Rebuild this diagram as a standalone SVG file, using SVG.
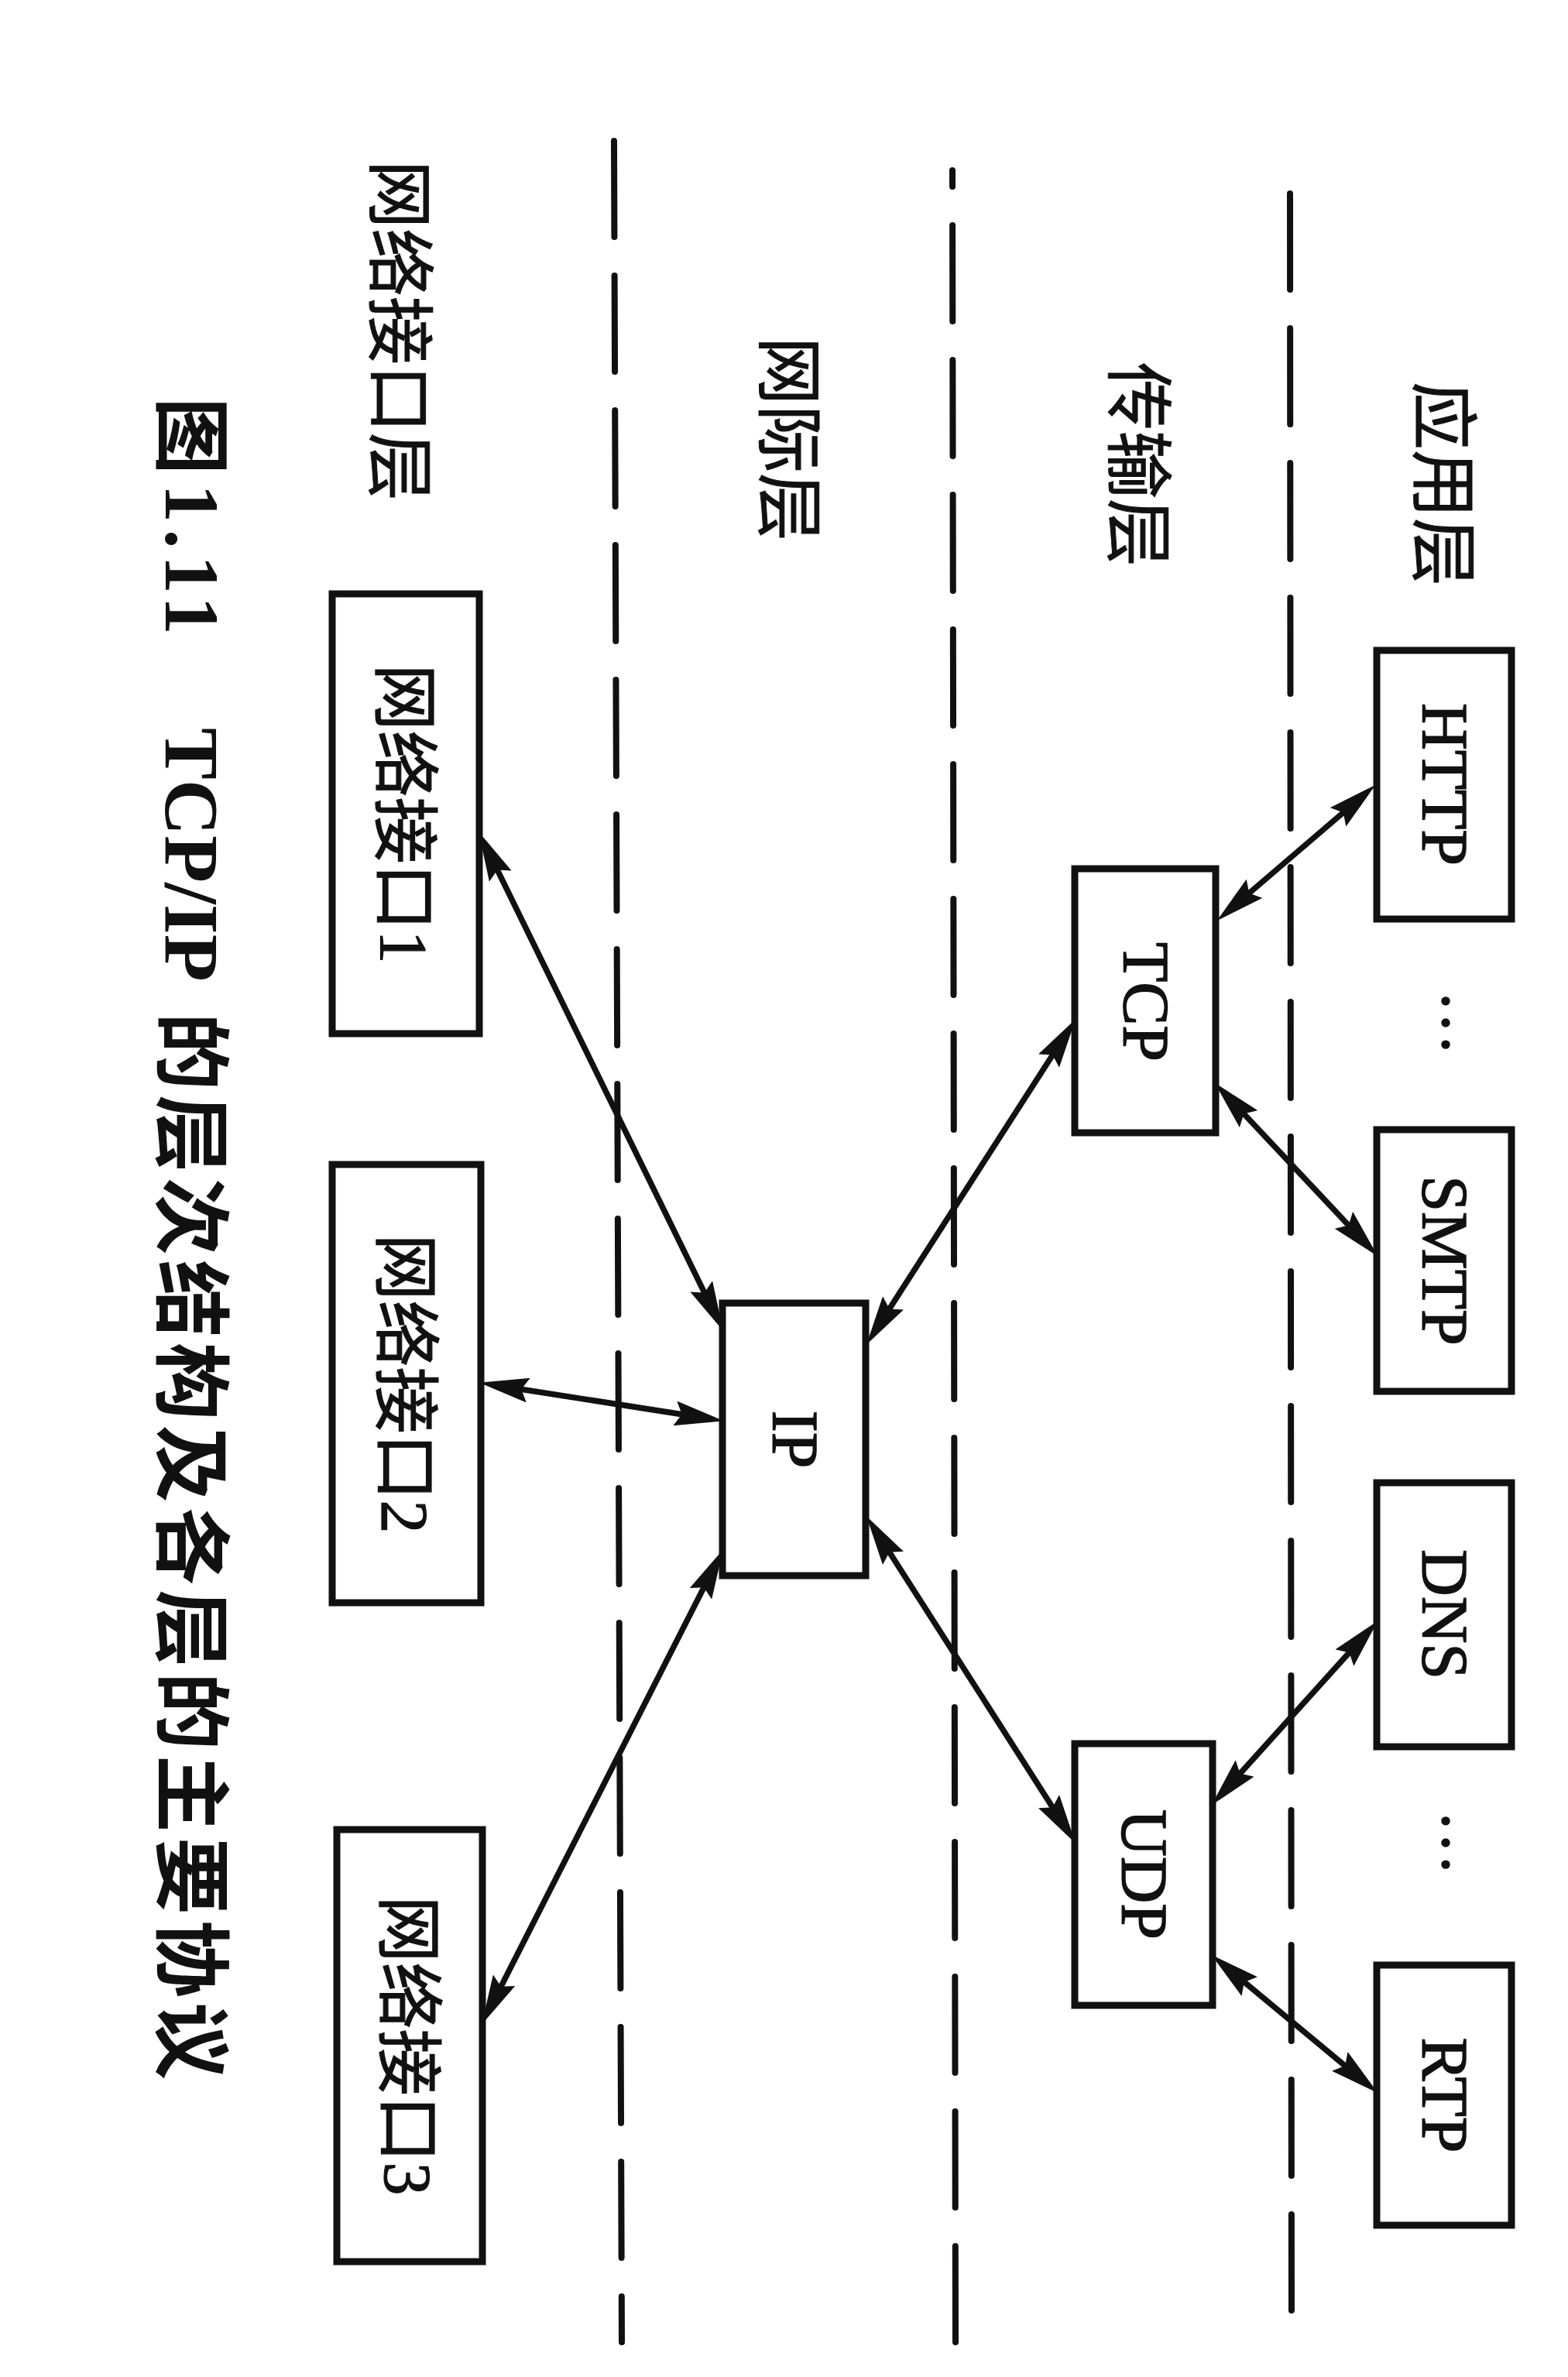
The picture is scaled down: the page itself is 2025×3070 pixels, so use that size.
<svg xmlns="http://www.w3.org/2000/svg" width="2025" height="3070" viewBox="0 0 2025 3070">
<style>
.box{fill:#fff;stroke:#111;stroke-width:9}
.lbl{font-family:"Liberation Serif","Noto Sans CJK SC",serif;font-size:84px;fill:#111;stroke:#111;stroke-width:1.5;text-anchor:middle}
.cjk{font-family:"Liberation Serif","Noto Sans CJK SC",serif;font-size:86px;fill:#111;stroke:#111;stroke-width:1.2;text-anchor:middle}
.layer{font-family:"Noto Sans CJK SC",sans-serif;font-size:88px;fill:#111;stroke:#111;stroke-width:1;text-anchor:middle}
.cap{font-family:"Liberation Serif","Noto Sans CJK SC",serif;font-size:100px;font-weight:bold;fill:#111}
.capc{font-family:"Noto Sans CJK SC",sans-serif;font-size:100px;font-weight:bold;fill:#111}
.dash{stroke:#111;stroke-width:8;stroke-dasharray:124 50;stroke-linecap:round;fill:none}
.arr{stroke:#111;stroke-width:7.5;fill:none;marker-start:url(#ah);marker-end:url(#ah)}
</style>
<defs>
<marker id="ah" markerUnits="userSpaceOnUse" markerWidth="64" markerHeight="32" refX="32" refY="16" orient="auto-start-reverse" viewBox="0 0 64 32">
<path d="M0,0 L64,16 L0,32 L9,16 z" fill="#111"/>
</marker>
</defs>
<rect width="2025" height="3070" fill="#fff"/>

<g id="layer-lines">
<line class="dash" x1="793" y1="182" x2="803" y2="3025"/>
<line class="dash" x1="1230" y1="220" x2="1234" y2="3025" stroke-dashoffset="103"/>
<line class="dash" x1="1666" y1="250" x2="1668" y2="3025"/>
</g>

<g id="layer-labels">
<text class="layer" transform="translate(1866,625) rotate(90)" y="33">应用层</text>
<text class="layer" transform="translate(1472,600) rotate(90)" y="33">传输层</text>
<text class="layer" transform="translate(1021,567) rotate(90)" y="33">网际层</text>
<text class="layer" transform="translate(518,427) rotate(90)" y="33">网络接口层</text>
</g>

<g id="connectors">
<line class="arr" x1="1752.2" y1="1034.5" x2="1595.8" y2="1168.5"/>
<line class="arr" x1="1590.6" y1="1421.8" x2="1757.4" y2="1599.2"/>
<line class="arr" x1="1371.8" y1="1343.2" x2="1136.2" y2="1709.8"/>
<line class="arr" x1="1136.2" y1="1985.3" x2="1371.8" y2="2353.7"/>
<line class="arr" x1="1757.9" y1="2117.3" x2="1586.1" y2="2307.7"/>
<line class="arr" x1="1589.1" y1="2545.2" x2="1754.9" y2="2682.8"/>
<line class="arr" x1="632.2" y1="1102.9" x2="919.8" y2="1690.1"/>
<line class="arr" x1="650.6" y1="1790.7" x2="903.4" y2="1830.3"/>
<line class="arr" x1="636.6" y1="2586.2" x2="919.4" y2="2029.8"/>
</g>

<g id="http"><rect class="box" x="1778" y="840" width="174" height="347"/><text class="lbl" transform="translate(1865,1013) rotate(90)" y="28">HTTP</text></g>
<g id="smtp"><rect class="box" x="1778" y="1459" width="174" height="338"/><text class="lbl" transform="translate(1865,1628) rotate(90)" y="28">SMTP</text></g>
<g id="dns"><rect class="box" x="1778" y="1915" width="174" height="341"/><text class="lbl" transform="translate(1865,2085) rotate(90)" y="28">DNS</text></g>
<g id="rtp"><rect class="box" x="1778" y="2538" width="174" height="336"/><text class="lbl" transform="translate(1865,2706) rotate(90)" y="28">RTP</text></g>
<g id="dots1"><text class="lbl" transform="translate(1867,1321) rotate(90)" y="4" stroke-width="3">…</text></g>
<g id="dots2"><text class="lbl" transform="translate(1867,2380) rotate(90)" y="4" stroke-width="3">…</text></g>
<g id="tcp"><rect class="box" x="1388" y="1122" width="182" height="341"/><text class="lbl" transform="translate(1479,1294) rotate(90)" y="28">TCP</text></g>
<g id="udp"><rect class="box" x="1388" y="2252" width="178" height="338"/><text class="lbl" transform="translate(1477,2421) rotate(90)" y="28">UDP</text></g>
<g id="ip"><rect class="box" x="933" y="1683" width="185" height="352"/><text class="lbl" transform="translate(1026,1859) rotate(90)" y="28">IP</text></g>
<g id="if1"><rect class="box" x="429" y="767" width="190" height="568"/><text class="cjk" transform="translate(524,1051) rotate(90)" y="32">网络接口1</text></g>
<g id="if2"><rect class="box" x="429" y="1504" width="192" height="566"/><text class="cjk" transform="translate(525,1787) rotate(90)" y="32">网络接口2</text></g>
<g id="if3"><rect class="box" x="435" y="2363" width="188" height="558"/><text class="cjk" transform="translate(529,2642) rotate(90)" y="32">网络接口3</text></g>

<g id="caption">
<text class="capc" transform="translate(248,513) rotate(90)" y="37">图</text>
<text class="cap" transform="translate(248,625) rotate(90)" y="34" textLength="195" lengthAdjust="spacing">1.11</text>
<text class="cap" transform="translate(248,940) rotate(90)" y="34">TCP/IP</text>
<text class="capc" transform="translate(248,1308) rotate(90)" y="37" textLength="1378" lengthAdjust="spacing">的层次结构及各层的主要协议</text>
</g>
</svg>
